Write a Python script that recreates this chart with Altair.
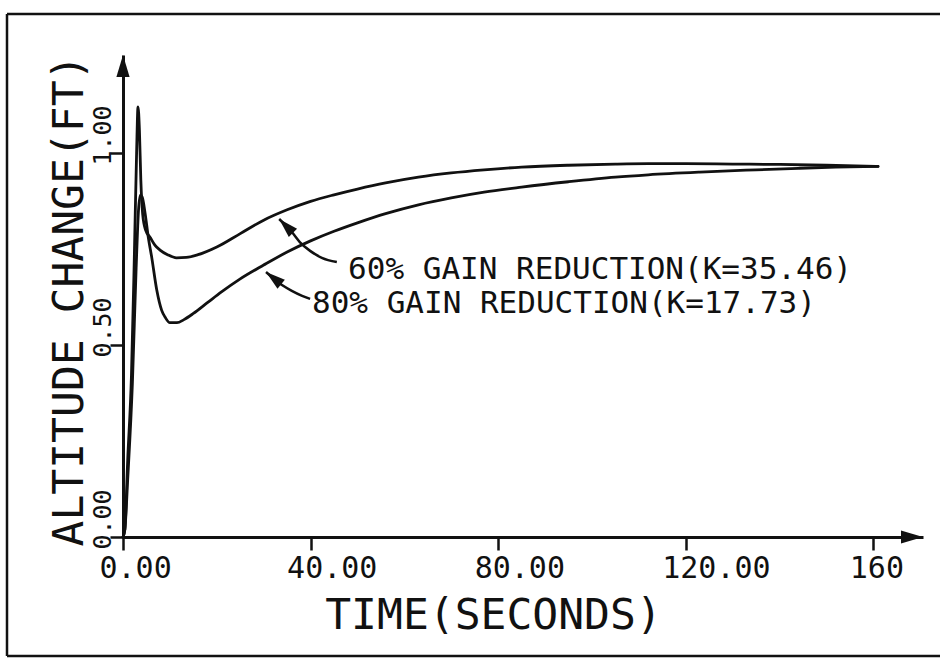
import altair as alt
import pandas as pd

# Altitude response, 60% gain reduction (K=35.46)
t_60 = [0, 0.4, 1.0, 1.8, 2.4, 2.9, 3.2, 3.5, 3.8, 4.2, 4.8, 5.8, 6.8, 7.9, 9.5, 11.4,
        13.5, 16, 20, 25, 30, 35, 40, 45, 50, 56, 63, 70, 77, 85, 95, 105, 112, 120,
        130, 140, 150, 161]
h_60 = [0, 0.02, 0.2, 0.42, 0.72, 1.0, 1.12, 1.06, 0.93, 0.84, 0.80, 0.78, 0.76, 0.747,
        0.735, 0.727, 0.728, 0.735, 0.755, 0.79, 0.825, 0.852, 0.874, 0.891, 0.906, 0.922,
        0.937, 0.948, 0.956, 0.963, 0.968, 0.971, 0.972, 0.972, 0.971, 0.970, 0.968, 0.965]

# Altitude response, 80% gain reduction (K=17.73)
t_80 = [0, 0.4, 1.0, 2.0, 2.8, 3.3, 3.7, 4.1, 4.7, 5.4, 6.1, 7.2, 8.25, 9.0, 10, 11.5,
        13, 15, 18, 21, 25, 30, 35, 40, 45, 50, 56, 63, 70, 77, 85, 95, 105, 112, 123,
        135, 144, 152, 161]
h_80 = [0, 0.02, 0.15, 0.40, 0.70, 0.85, 0.89, 0.885, 0.844, 0.78, 0.73, 0.643, 0.59,
        0.572, 0.558, 0.558, 0.566, 0.582, 0.61, 0.638, 0.672, 0.708, 0.742, 0.771, 0.796,
        0.818, 0.842, 0.865, 0.883, 0.898, 0.911, 0.925, 0.937, 0.943, 0.95, 0.956, 0.96,
        0.963, 0.965]

series_names = ["60% GAIN REDUCTION(K=35.46)", "80% GAIN REDUCTION(K=17.73)"]

# Label anchors (data units) and leader arrows pointing at each curve
label_t = [48.0, 40.3]
label_h = [0.672, 0.583]
leader_60_t = [33.3, 36.0, 37.7, 39.9, 42.4, 45.6]
leader_60_h = [0.828, 0.794, 0.768, 0.745, 0.727, 0.716]
leader_80_t = [30.5, 33.9, 36.0, 38.2, 39.9]
leader_80_h = [0.690, 0.656, 0.641, 0.628, 0.620]
leader_angle = [315, 309]

x_ticks = [0, 40, 80, 120, 160]
y_ticks = [0.0, 0.5, 1.0]
X_MAX = 170.6
Y_MAX = 1.255

FONT = "DejaVu Sans Mono"
INK = "#111111"
W, H = 800, 482

curves = pd.concat([
    pd.DataFrame({"t": t_60, "h": h_60, "series": series_names[0]}),
    pd.DataFrame({"t": t_80, "h": h_80, "series": series_names[1]}),
])
leaders = pd.concat([
    pd.DataFrame({"t": leader_60_t, "h": leader_60_h, "series": series_names[0]}),
    pd.DataFrame({"t": leader_80_t, "h": leader_80_h, "series": series_names[1]}),
])
heads = pd.DataFrame({
    "t": [leader_60_t[0], leader_80_t[0]],
    "h": [leader_60_h[0], leader_80_h[0]],
    "angle": leader_angle,
})
labels = pd.DataFrame({"t": label_t, "h": label_h, "text": series_names})
axis_heads = pd.DataFrame({"t": [0, X_MAX], "h": [Y_MAX, 0], "angle": [0, 90]})

x_scale = alt.Scale(domain=[0, X_MAX], nice=False, zero=False)
y_scale = alt.Scale(domain=[0, Y_MAX], nice=False, zero=False)

x_axis = alt.Axis(
    values=x_ticks,
    labelExpr="datum.value == 160 ? '160' : format(datum.value, '.2f')",
    grid=False, domain=True, domainColor=INK, domainWidth=3,
    ticks=True, tickColor=INK, tickWidth=2.5, tickSize=13,
    labelFont=FONT, labelFontSize=30, labelColor=INK,
    labelAlign="left", labelBaseline="top", labelOffset=-24, labelPadding=3,
    labelFlush=False, labelOverlap=False,
    titleFont=FONT, titleFontSize=43, titleFontWeight="normal", titleColor=INK,
    titleX=370, titleY=91, titleAlign="center", titleBaseline="alphabetic",
)
y_axis = alt.Axis(
    values=y_ticks, format=".2f",
    grid=False, domain=True, domainColor=INK, domainWidth=3,
    ticks=True, tickColor=INK, tickWidth=2.5, tickSize=13,
    labelFont=FONT, labelFontSize=25, labelColor=INK,
    labelAngle=270, labelAlign="center", labelBaseline="alphabetic",
    labelOffset=-18, labelPadding=0, labelFlush=False, labelOverlap=False,
    titleFont=FONT, titleFontSize=43, titleFontWeight="normal", titleColor=INK,
    titleAngle=270, titleX=-41, titleY=245, titleAlign="center",
    titleBaseline="alphabetic",
)

X = alt.X("t:Q", scale=x_scale, axis=x_axis, title="TIME(SECONDS)")
Y = alt.Y("h:Q", scale=y_scale, axis=y_axis, title="ALTITUDE CHANGE(FT)")

lines = alt.Chart(curves).mark_line(
    color=INK, strokeWidth=2.8, strokeCap="round", strokeJoin="round",
    interpolate="monotone", clip=False,
).encode(x=X, y=Y, detail="series:N")

leader_lines = alt.Chart(leaders).mark_line(
    color=INK, strokeWidth=2.5, interpolate="monotone",
).encode(x=X, y=Y, detail="series:N")

# arrowhead path with its tip at the anchor point, pointing up before rotation
TIP_PATH = "M0,0 L-0.6,2 L0.6,2 Z"

leader_heads = alt.Chart(heads).mark_point(
    shape=TIP_PATH, filled=True, color=INK, opacity=1, size=380,
).encode(x=X, y=Y, angle=alt.Angle("angle:Q", scale=None))

axis_arrows = alt.Chart(axis_heads).mark_point(
    shape=TIP_PATH, filled=True, color=INK, opacity=1, size=484, clip=False,
).encode(x=X, y=Y, angle=alt.Angle("angle:Q", scale=None))

label_text = alt.Chart(labels).mark_text(
    font=FONT, fontSize=31, color=INK, align="left", baseline="alphabetic",
).encode(x=X, y=Y, text="text:N")

# outer page border (left, top and bottom edges)
border = alt.Chart(pd.DataFrame({"k": [0]})).mark_rule(color=INK, strokeWidth=2.5)
border_left = border.encode(x=alt.value(-116), y=alt.value(-41), y2=alt.value(601))
border_top = border.encode(x=alt.value(-116), x2=alt.value(817), y=alt.value(-41))
border_bottom = border.encode(x=alt.value(-116), x2=alt.value(817), y=alt.value(601))

chart = alt.layer(
    lines, leader_lines, leader_heads, axis_arrows, label_text,
    border_left, border_top, border_bottom,
).properties(
    width=W, height=H,
    autosize=alt.AutoSizeParams(type="none"),
    padding={"left": 123, "top": 55, "right": 17, "bottom": 126},
    background="white",
).configure_view(stroke=None)

chart.save("out.html", embed_options={"renderer": "svg", "actions": False})
